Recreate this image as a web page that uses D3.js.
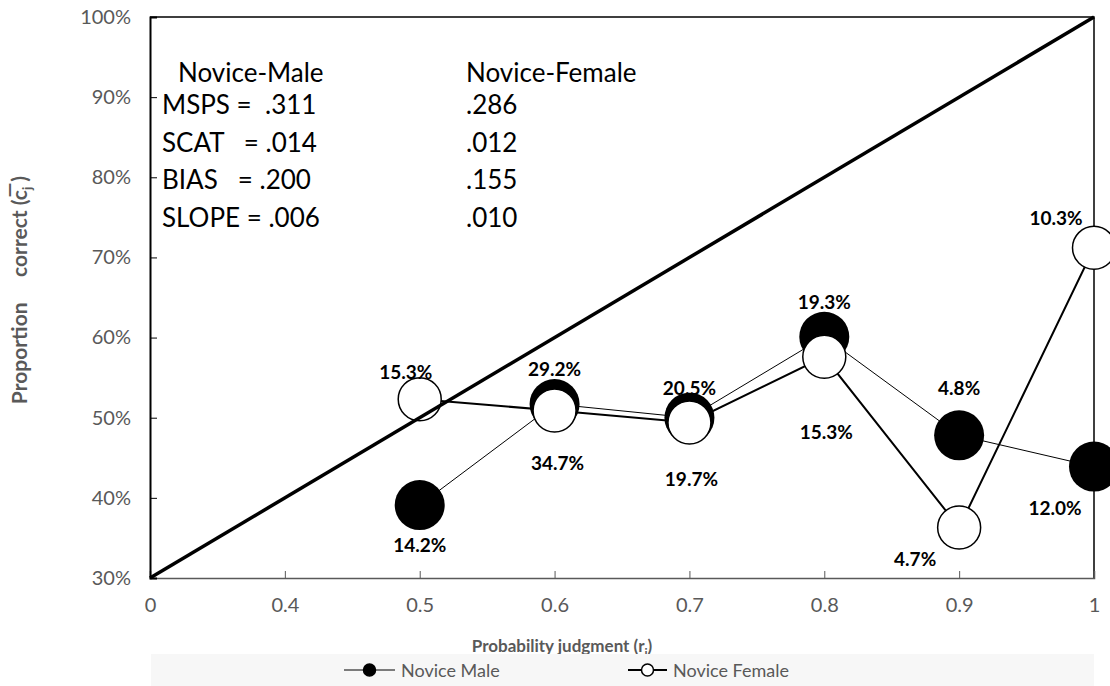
<!DOCTYPE html>
<html lang="en">
<head>
    <meta charset="UTF-8">
    <title>Calibration - novices</title>
    <script src="https://cdn.jsdelivr.net/npm/d3@7"></script>
    <style>
        body{ margin:0; background:#fff; }
        text{ font-family: Lato, "Open Sans", sans-serif; }
        .tick text{ fill:#595959; font-size:20px; }
        .axisTitle{ fill:#595959; font-weight:bold; }
        .stat{ font-size:26px; fill:#000; }
        .dataLabel{ font-size:19px; font-weight:bold; fill:#000; }
        .legendText{ font-size:18px; fill:#595959; }
    </style>
</head>
<body>
<svg width="1110" height="686"></svg>
<script>
    // categories on the x axis (Excel line chart, so evenly spaced)
    const categories = ["0", "0.4", "0.5", "0.6", "0.7", "0.8", "0.9", "1"];
    const judgments = ["0.5", "0.6", "0.7", "0.8", "0.9", "1"];
    // proportion correct per judgment category
    const maleCorrect = [0.391, 0.517, 0.500, 0.601, 0.478, 0.439];
    const femaleCorrect = [0.523, 0.509, 0.494, 0.576, 0.363, 0.712];
    // share of judgments in each category
    const malePct = ["14.2%", "29.2%", "20.5%", "19.3%", "4.8%", "12.0%"];
    const femalePct = ["15.3%", "34.7%", "19.7%", "15.3%", "4.7%", "10.3%"];
    const yTicks = [0.3, 0.4, 0.5, 0.6, 0.7, 0.8, 0.9, 1.0];
    // perfect calibration line
    const diagonal = [["0", 0.3], ["1", 1.0]];
    // stats box
    const statNames = ["MSPS =  .311", "SCAT   = .014", "BIAS   = .200", "SLOPE = .006"];
    const femaleStats = [".286", ".012", ".155", ".010"];

    // label nudges (pixels from the marker), placed by hand like the original
    const maleLabelShift = [[0, 40], [0, -35], [0, -30], [0, -35], [0, -47], [-39, 41]];
    const femaleLabelShift = [[-14, -27], [3, 52], [2, 56], [2, 75], [-44, 31], [-38, -30]];

    const svg = d3.select("svg");
    const mLeft = 150, mRight = 1094, mTop = 17, mBottom = 578;

    const x = d3.scalePoint().domain(categories).range([mLeft, mRight]);
    const y = d3.scaleLinear().domain([0.3, 1.0]).range([mBottom, mTop]);

    // frame: top and right borders
    svg.append("path")
        .attr("d", `M${mLeft},${mTop}H${mRight}V${mBottom}`)
        .attr("fill", "none").attr("stroke", "#000").attr("stroke-width", 1.5);

    // x axis, ticks pointing up into the plot
    const xAxis = svg.append("g")
        .attr("transform", `translate(0,${mBottom})`)
        .call(d3.axisTop(x).tickSizeOuter(0).tickSize(7).tickPadding(-41));
    xAxis.select(".domain").attr("stroke", "#595959").attr("stroke-width", 1.5);
    xAxis.selectAll(".tick line").attr("stroke", "#595959");

    // y axis, ticks inside
    const yAxis = svg.append("g")
        .attr("transform", `translate(${mLeft},0)`)
        .call(d3.axisRight(y).tickValues(yTicks).tickFormat(d3.format(".0%"))
            .tickSizeOuter(0).tickSize(7).tickPadding(-24));
    yAxis.select(".domain").attr("stroke", "#000").attr("stroke-width", 2);
    yAxis.selectAll(".tick line").attr("stroke", "#000");
    yAxis.selectAll(".tick text").attr("text-anchor", "end").attr("x", -19);

    const data = (vals) => judgments.map((j, i) => ({cat: j, v: vals[i]}));
    const lineGen = d3.line().x(d => x(d.cat)).y(d => y(d.v));

    const male = data(maleCorrect), female = data(femaleCorrect);

    // male series: thin line, big black markers
    svg.append("path").datum(male)
        .attr("d", lineGen).attr("fill", "none").attr("stroke", "#000").attr("stroke-width", 1);
    svg.selectAll(".maleDot").data(male).enter().append("circle")
        .attr("cx", d => x(d.cat)).attr("cy", d => y(d.v)).attr("r", 25).attr("fill", "#000");

    // female series: heavier line, white markers
    svg.append("path").datum(female)
        .attr("d", lineGen).attr("fill", "none").attr("stroke", "#000").attr("stroke-width", 2);
    svg.selectAll(".femaleDot").data(female).enter().append("circle")
        .attr("cx", d => x(d.cat)).attr("cy", d => y(d.v)).attr("r", 21.5)
        .attr("fill", "#fff").attr("stroke", "#000").attr("stroke-width", 1.5);

    // diagonal
    svg.append("path").datum(diagonal)
        .attr("d", d3.line().x(d => x(d[0])).y(d => y(d[1])))
        .attr("stroke", "#000").attr("stroke-width", 3.5);

    // data labels
    const addLabels = (pts, pct, shift) => {
        svg.append("g").selectAll("text").data(pts).enter().append("text")
            .attr("class", "dataLabel")
            .attr("text-anchor", "middle")
            .attr("x", (d, i) => x(d.cat) + shift[i][0])
            .attr("y", (d, i) => y(d.v) + shift[i][1] + 7)
            .text((d, i) => pct[i]);
    };
    addLabels(male, malePct, maleLabelShift);
    addLabels(female, femalePct, femaleLabelShift);

    // stats text box
    const stats = svg.append("g");
    stats.append("text").attr("class", "stat").attr("x", 178).attr("y", 82).text("Novice-Male");
    stats.append("text").attr("class", "stat").attr("x", 466).attr("y", 82).text("Novice-Female");
    statNames.forEach((s, i) => {
        stats.append("text").attr("class", "stat").attr("x", 162).attr("y", 114 + i * 37.5)
            .style("white-space", "pre").text(s);
        stats.append("text").attr("class", "stat").attr("x", 466).attr("y", 114 + i * 37.5)
            .text(femaleStats[i]);
    });

    // axis titles
    const xt = svg.append("text").attr("class", "axisTitle").attr("font-size", 17)
        .attr("x", 562).attr("y", 652).attr("text-anchor", "middle");
    xt.append("tspan").text("Probability judgment (r");
    xt.append("tspan").attr("font-size", 12).attr("dy", 5).text("j");
    xt.append("tspan").attr("dy", -5).text(")");

    const yt = svg.append("text").attr("class", "axisTitle").attr("font-size", 21)
        .attr("transform", "translate(27,290) rotate(-90)")
        .attr("text-anchor", "middle").style("white-space", "pre");
    yt.append("tspan").text("Proportion     correct (c\u0305");
    yt.append("tspan").attr("font-size", 13).attr("dy", 5).text("j");
    yt.append("tspan").attr("dy", -5).text(" )");

    // legend
    svg.append("rect").attr("x", 151).attr("y", 654).attr("width", 943).attr("height", 32).attr("fill", "#f7f7f7");
    const legend = [
        {name: "Novice Male", fill: "#000", w: 1, x1: 344, x2: 395},
        {name: "Novice Female", fill: "#fff", w: 2, x1: 628, x2: 667}
    ];
    const lg = svg.selectAll(".leg").data(legend).enter().append("g");
    lg.append("line").attr("x1", d => d.x1).attr("x2", d => d.x2).attr("y1", 670).attr("y2", 670)
        .attr("stroke", "#000").attr("stroke-width", d => d.w);
    lg.append("circle").attr("cx", d => (d.x1 + d.x2) / 2).attr("cy", 670).attr("r", 6)
        .attr("fill", d => d.fill).attr("stroke", "#000").attr("stroke-width", 1.5);
    lg.append("text").attr("class", "legendText").attr("x", d => d.x2 + 6).attr("y", 677).text(d => d.name);
</script>
</body>
</html>
